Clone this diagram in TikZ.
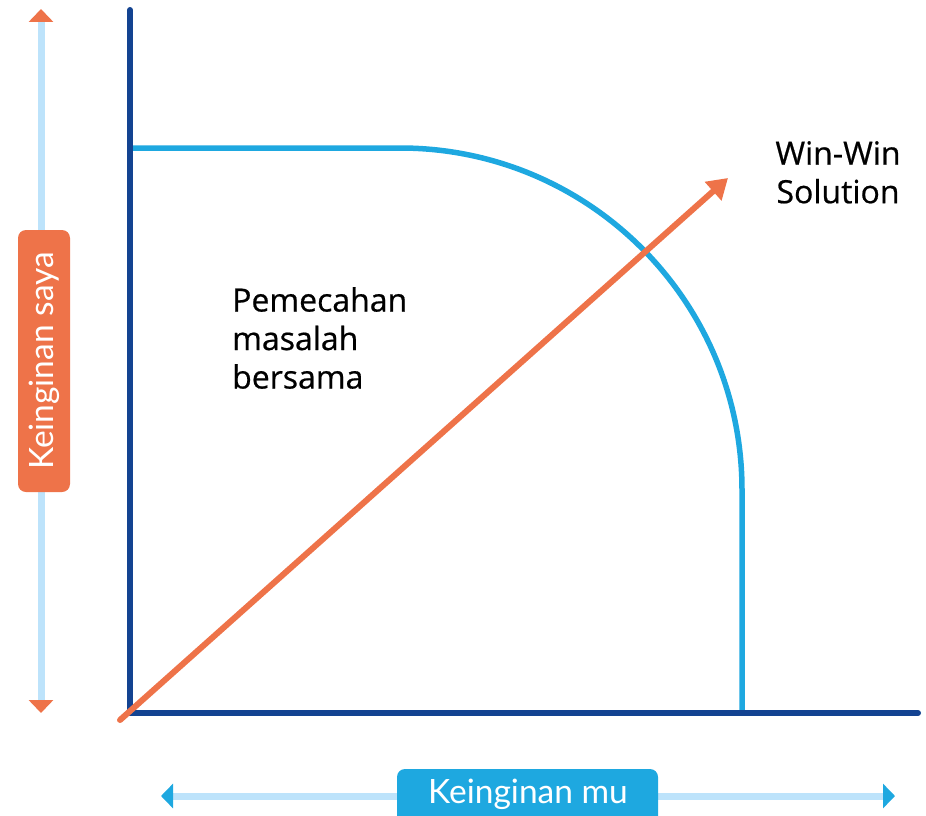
\documentclass[tikz,border=0pt]{standalone}
\usepackage{fontspec}
\setmainfont{Lato}
\newfontfamily\bodyfont[FakeBold=0.6]{Open Sans}
\usetikzlibrary{arrows.meta}
\definecolor{axisblue}{HTML}{134391}
\definecolor{curveblue}{HTML}{1EA8E0}
\definecolor{paleblue}{HTML}{BDE3FB}
\definecolor{orng}{HTML}{EE7349}
\tikzset{
  axisline/.style={draw=axisblue,line width=6pt,line cap=round},
  curveline/.style={draw=curveblue,line width=5.5pt},
  guideline/.style={draw=paleblue,line width=7pt},
  labelbox/.style={rounded corners=8pt,inner sep=0pt},
  labeltext/.style={text=white,font=\fontsize{33.5}{38}\selectfont,inner sep=0pt},
  plaintext/.style={font=\bodyfont\fontsize{32}{38.5}\selectfont,text=black,inner sep=0pt},
}
\begin{document}
\begin{tikzpicture}[x=1pt,y=-1pt]
\useasboundingbox (0,0) rectangle (926,816);
% coordinates
\coordinate (O) at (130,713);
\coordinate (ytop) at (130,10);
\coordinate (xend) at (918,713);
\coordinate (c0) at (130,148);
\coordinate (c1) at (400,148);
\coordinate (c3) at (742,713);
\coordinate (dstart) at (120,720);
\coordinate (dend) at (728,178);
\coordinate (lm) at (41,400);
\coordinate (lt) at (41,9);
\coordinate (lb) at (41,713);
\coordinate (bm) at (528,796);
\coordinate (bl) at (161,796);
\coordinate (br) at (895,796);
% left guide arrow
\draw[guideline,-{Triangle[width=24pt,length=13pt,color=orng]}] (lm) -- (lt);
\draw[guideline,-{Triangle[width=24pt,length=13pt,color=orng]}] (lm) -- (lb);
% bottom guide arrow
\draw[guideline,-{Triangle[width=24pt,length=12pt,color=curveblue]}] (bm) -- (bl);
\draw[guideline,-{Triangle[width=24pt,length=12pt,color=curveblue]}] (bm) -- (br);
% curve
\draw[curveline] (c0) -- (c1) arc[start angle=-90,end angle=0,radius=342] -- (c3);
% axes
\draw[axisline] (ytop) -- (O) -- (xend);
% diagonal
\draw[draw=orng,line width=6pt,line cap=round,-{Triangle[width=24pt,length=20pt]}] (dstart) -- (dend);
% labels
\node[labelbox,fill=orng,minimum width=52pt,minimum height=262pt] (saya) at (44,361) {};
\node[labeltext,rotate=90] (sayatxt) at (saya.center) {Keinginan saya};
\node[labelbox,fill=curveblue,minimum width=261pt,minimum height=56pt] (mu) at (527.5,797) {};
\node[labeltext] (mutxt) at (528,794) {Keinginan mu};
\node[plaintext,align=center,anchor=north] (win) at (838,141) {Win-Win\\Solution};
\node[plaintext,align=left,anchor=north west] (pem) at (232,287) {Pemecahan\\masalah\\bersama};
\end{tikzpicture}
\end{document}
